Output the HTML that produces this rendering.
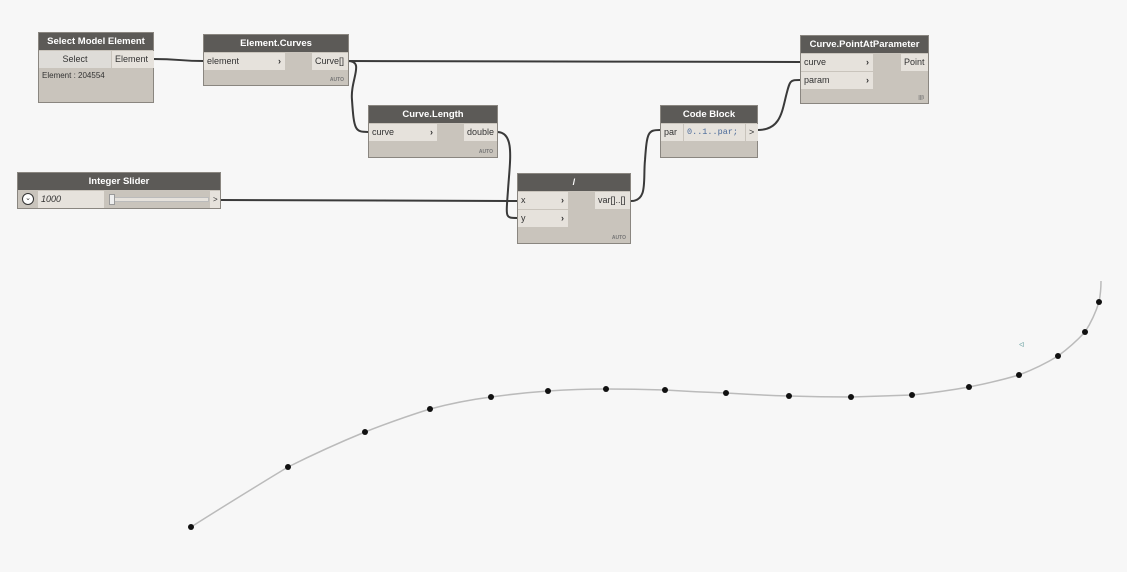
<!DOCTYPE html>
<html><head><style>
body{margin:0;width:1127px;height:572px;background:#f7f7f7;position:relative;overflow:hidden;font-family:"Liberation Sans",sans-serif;font-size:9px;color:#333}
.n{position:absolute;background:#c9c4bc;border:1px solid #8a8680;box-sizing:border-box}
.h{background:#5c5a57;color:#fff;font-weight:bold;text-align:center;height:17px;line-height:17px;font-size:9.5px}
.p{position:absolute;background:#e6e2dc;height:17px;line-height:17px;padding-left:3px;box-sizing:border-box}
.a{position:absolute;right:4px;font-weight:bold}
.auto{position:absolute;right:4px;bottom:2px;font-size:5px;color:#777;font-weight:bold}
</style></head><body>
<svg width="1127" height="572" style="position:absolute;left:0;top:0">
<g fill="none" stroke="#3a3a3a" stroke-width="2">
<path d="M153 59 C180 59,180 61,203 61"/>
<path d="M348 61 C600 61,600 62,800 62"/>
<path d="M348 61 C365 61,350 80,352 100 C354 130,355 132,368 132"/>
<path d="M497 132 C515 132,510 160,508 190 C506 218,505 218,517 218"/>
<path d="M220 200 C400 200,400 201,517 201"/>
<path d="M631 201 C648 201,643 180,645 160 C647 132,648 130,660 130"/>
<path d="M758 130 C780 130,782 112,786 96 C790 80,790 80,800 80"/>
</g>
<path fill="none" stroke="#bbb" stroke-width="1.5" d="M191 527 Q240 496 288 467 Q326 448 365 432 Q398 419 430 409 Q460 401 491 397 Q520 393 548 391 Q577 389 606 389 Q636 389 665 390 Q696 392 726 393 Q758 395 789 396 Q820 397 851 397 Q882 396 912 395 Q941 392 969 387 Q995 382 1019 375 Q1040 367 1058 356 Q1073 345 1085 332 Q1094 318 1099 302 Q1101 292 1101 281"/>
<g fill="#111">
<circle cx="191" cy="527" r="3"/><circle cx="288" cy="467" r="3"/><circle cx="365" cy="432" r="3"/><circle cx="430" cy="409" r="3"/><circle cx="491" cy="397" r="3"/><circle cx="548" cy="391" r="3"/><circle cx="606" cy="389" r="3"/><circle cx="665" cy="390" r="3"/><circle cx="726" cy="393" r="3"/><circle cx="789" cy="396" r="3"/><circle cx="851" cy="397" r="3"/><circle cx="912" cy="395" r="3"/><circle cx="969" cy="387" r="3"/><circle cx="1019" cy="375" r="3"/><circle cx="1058" cy="356" r="3"/><circle cx="1085" cy="332" r="3"/><circle cx="1099" cy="302" r="3"/>
</g>
<text x="1019" y="347" font-size="7" fill="#7aa">ᐊ</text>
</svg>

<div class="n" style="left:38px;top:32px;width:116px;height:71px">
<div class="h">Select Model Element</div>
<div class="p" style="left:0;top:18px;width:72px;background:#dedcd8;text-align:center;padding:0">Select</div>
<div class="p" style="left:73px;top:18px;width:42px">Element</div>
<div style="position:absolute;left:3px;top:38px;font-size:8px">Element : 204554</div>
</div>

<div class="n" style="left:203px;top:34px;width:146px;height:52px">
<div class="h">Element.Curves</div>
<div class="p" style="left:0;top:18px;width:81px">element<span class="a">›</span></div>
<div class="p" style="left:108px;top:18px;width:36px">Curve[]</div>
<div class="auto">AUTO</div>
</div>

<div class="n" style="left:368px;top:105px;width:130px;height:53px">
<div class="h">Curve.Length</div>
<div class="p" style="left:0;top:18px;width:68px">curve<span class="a">›</span></div>
<div class="p" style="left:95px;top:18px;width:33px">double</div>
<div class="auto">AUTO</div>
</div>

<div class="n" style="left:517px;top:173px;width:114px;height:71px">
<div class="h">/</div>
<div class="p" style="left:0;top:18px;width:50px">x<span class="a">›</span></div>
<div class="p" style="left:0;top:36px;width:50px">y<span class="a">›</span></div>
<div class="p" style="left:77px;top:18px;width:35px">var[]..[]</div>
<div class="auto">AUTO</div>
</div>

<div class="n" style="left:660px;top:105px;width:98px;height:53px">
<div class="h">Code Block</div>
<div class="p" style="left:0;top:18px;width:22px">par</div>
<div class="p" style="left:23px;top:18px;width:61px;font-family:'Liberation Mono',monospace;font-size:8.5px;color:#4a6a9a">0..1..par;</div>
<div class="p" style="left:85px;top:18px;width:12px">&gt;</div>
</div>

<div class="n" style="left:800px;top:35px;width:129px;height:69px">
<div class="h">Curve.PointAtParameter</div>
<div class="p" style="left:0;top:18px;width:72px">curve<span class="a">›</span></div>
<div class="p" style="left:0;top:36px;width:72px">param<span class="a">›</span></div>
<div class="p" style="left:100px;top:18px;width:27px">Point</div>
<div class="auto">|||\</div>
</div>

<div class="n" style="left:17px;top:172px;width:204px;height:37px">
<div class="h">Integer Slider</div>
<div style="position:absolute;left:4px;top:20px;width:10px;height:10px;border:1px solid #333;border-radius:50%;background:#fff;font-size:7px;line-height:10px;text-align:center">⌄</div>
<div class="p" style="left:20px;top:18px;width:66px;font-style:italic">1000</div>
<div style="position:absolute;left:91px;top:24px;width:98px;height:3px;background:#e6e2dc;border:1px solid #bbb"></div>
<div style="position:absolute;left:91px;top:21px;width:4px;height:9px;background:#eee;border:1px solid #999"></div>
<div class="p" style="left:192px;top:18px;width:10px;font-size:8px">&gt;</div>
</div>
</body></html>
